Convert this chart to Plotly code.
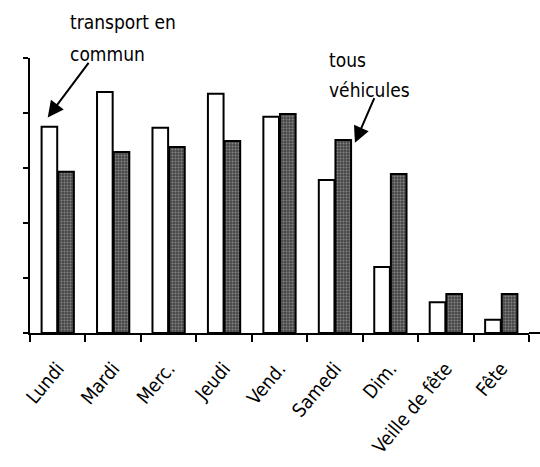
import plotly.graph_objects as go

# Days of the week and the two series (arbitrary units, axis unlabeled)
days = ["Lundi", "Mardi", "Merc.", "Jeudi", "Vend.", "Samedi", "Dim.", "Veille de fête", "Fête"]
transport_commun = [3.75, 4.38, 3.73, 4.35, 3.93, 2.78, 1.20, 0.56, 0.24]
tous_vehicules = [2.93, 3.29, 3.38, 3.49, 3.98, 3.51, 2.89, 0.71, 0.71]

FONT = "DejaVu Sans Condensed, Liberation Sans Narrow, Arial Narrow, sans-serif"

fig = go.Figure()
fig.add_trace(go.Bar(
    x=days, y=transport_commun, name="transport en commun",
    marker=dict(color="white", line=dict(color="black", width=2)),
))
fig.add_trace(go.Bar(
    x=days, y=tous_vehicules, name="tous véhicules",
    marker=dict(
        color="#5a5a5a",
        line=dict(color="black", width=2),
        pattern=dict(shape=".", fgcolor="#c4c4c4", bgcolor="#474747",
                     size=3, solidity=0.35),
    ),
))

fig.update_layout(
    width=540, height=467,
    margin=dict(l=30, r=11, t=58, b=134, autoexpand=False),
    paper_bgcolor="white", plot_bgcolor="white",
    barmode="group", bargap=0.4, bargroupgap=0.06,
    showlegend=False,
    font=dict(family=FONT, color="black", size=15),
    xaxis=dict(
        automargin=False,
        showline=True, linecolor="black", linewidth=2,
        ticks="outside", ticklen=7, tickwidth=1.5, tickcolor="black",
        tickson="boundaries", tickangle=-50, ticklabelstandoff=15,
        tickfont=dict(family=FONT, size=19, color="black"),
        showgrid=False,
    ),
    yaxis=dict(
        automargin=False,
        range=[0, 5], dtick=1,
        showline=True, linecolor="black", linewidth=2,
        ticks="outside", ticklen=5, tickwidth=1.5, tickcolor="black",
        showticklabels=False, showgrid=False, zeroline=False,
    ),
)

# Baseline runs on past the last category to the page edge
fig.add_shape(type="line", xref="paper", yref="paper", x0=1, x1=1.03, y0=0, y1=0,
              line=dict(color="black", width=2))

# Series labels
label_font = dict(family=FONT, size=19, color="black")
for text, px, py in [("transport en", 0.076, 1.131), ("commun", 0.076, 1.015),
                     ("tous", 0.595, 0.993), ("véhicules", 0.595, 0.884)]:
    fig.add_annotation(text=text, xref="paper", yref="paper", x=px, y=py,
                       xanchor="left", yanchor="middle", showarrow=False,
                       font=label_font)

# Arrows pointing at the first bar of each series
fig.add_annotation(x=days[0], y=transport_commun[0] + 0.17, xref="x", yref="y",
                   xshift=-10, text="", showarrow=True, arrowhead=2,
                   arrowsize=1.6, arrowwidth=2, arrowcolor="black",
                   ax=42, ay=-56)
fig.add_annotation(x=days[5], y=tous_vehicules[5] - 0.05, xref="x", yref="y",
                   xshift=20, text="", showarrow=True, arrowhead=2,
                   arrowsize=1.6, arrowwidth=2, arrowcolor="black",
                   ax=20, ay=-46)

fig.write_html("out.html")
